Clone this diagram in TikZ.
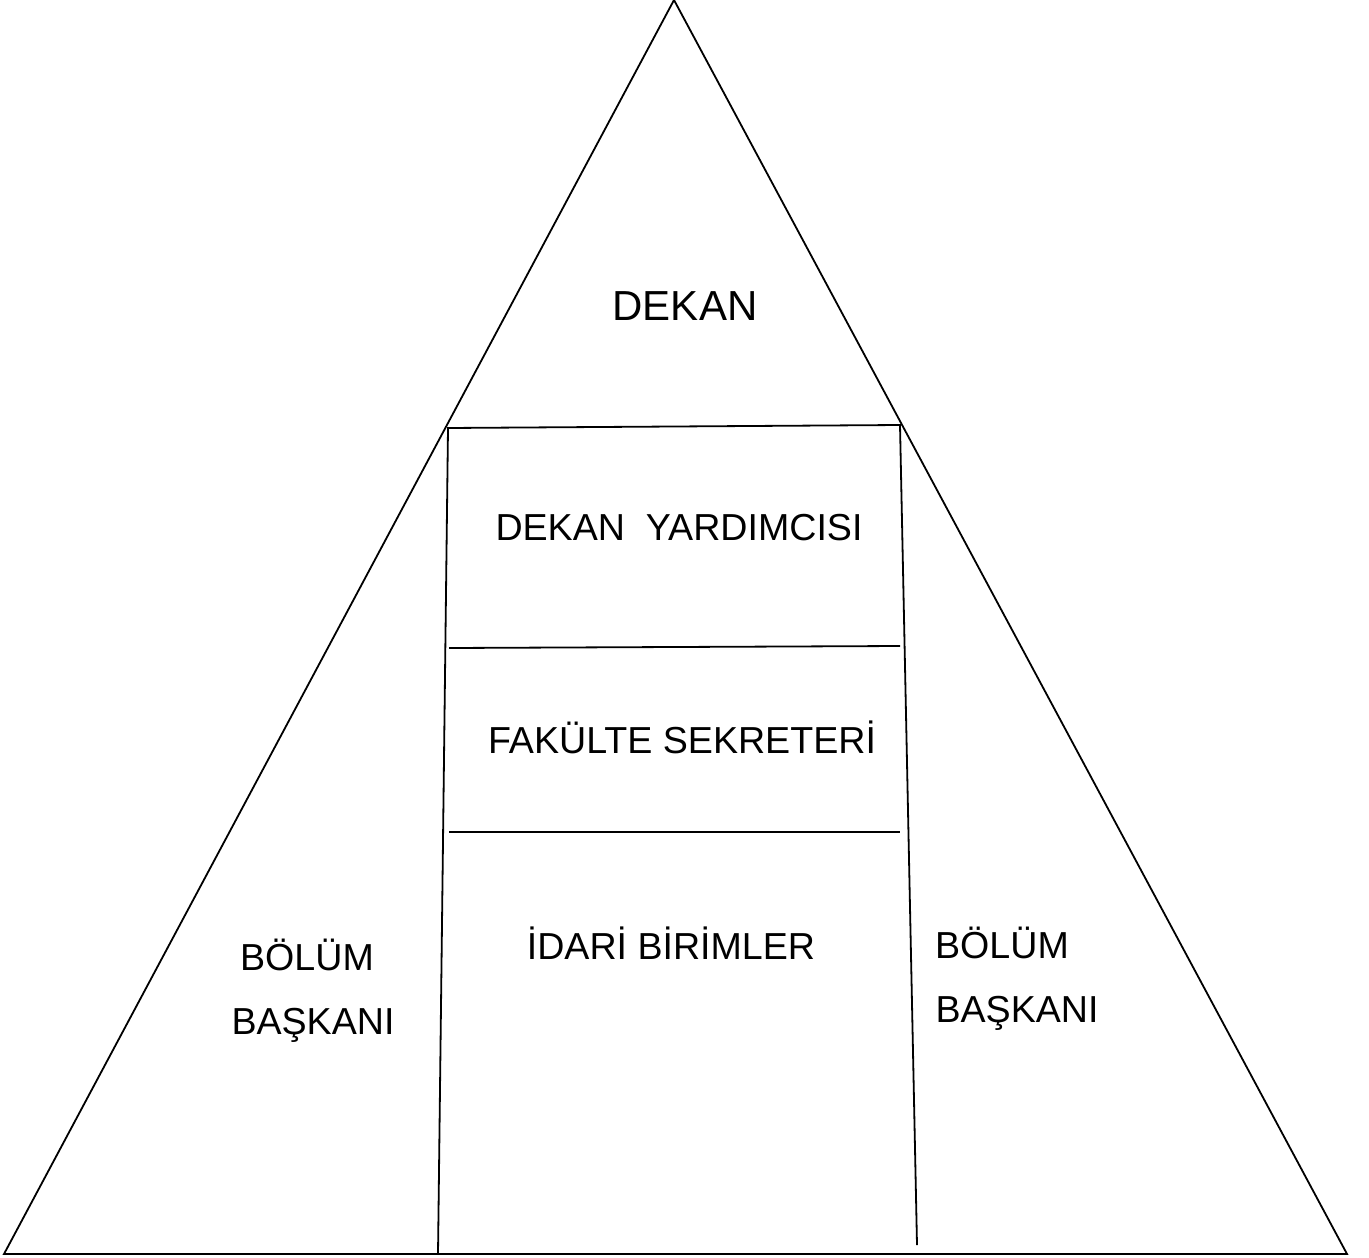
\documentclass[tikz,border=0pt]{standalone}
\usepackage{fontspec}
\setmainfont{Liberation Sans}

\begin{document}
\begin{tikzpicture}[x=0.5pt,y=-0.5pt,line width=0.9pt,
  lvltext/.style={font=\fontsize{18.8}{22}\selectfont,anchor=base,inner sep=0pt}]
\useasboundingbox (0,0) rectangle (1369,1257);
% outer triangle
\coordinate (apex) at (674,0);
\coordinate (bl) at (4,1254);
\coordinate (br) at (1347,1254);
\draw[line join=miter] (apex) -- (bl) -- (br) -- cycle;
% middle column
\coordinate (ctl) at (448,428);
\coordinate (ctr) at (900,425);
\coordinate (cbl) at (438,1254);
\coordinate (cbr) at (917,1245);
\draw (cbl) -- (ctl) -- (ctr) -- (cbr);
\draw (449,648) -- (900,646);
\draw (449,832) -- (900,832);
% texts
\node[lvltext,font=\fontsize{21}{25}\selectfont] (dekan) at (685,320) {DEKAN};
\node[lvltext] (yardimci) at (679,540) {DEKAN~~YARDIMCISI};
\node[lvltext] (sekreter) at (682,753) {FAKÜLTE SEKRETERİ};
\node[lvltext] (idari) at (671,959) {İDARİ BİRİMLER};
\node[lvltext] (bolumL) at (307,970) {BÖLÜM};
\node[lvltext] (baskanL) at (313,1034) {BAŞKANI};
\node[lvltext] (bolumR) at (1002,958) {BÖLÜM};
\node[lvltext] (baskanR) at (1017,1022) {BAŞKANI};
\end{tikzpicture}
\end{document}
